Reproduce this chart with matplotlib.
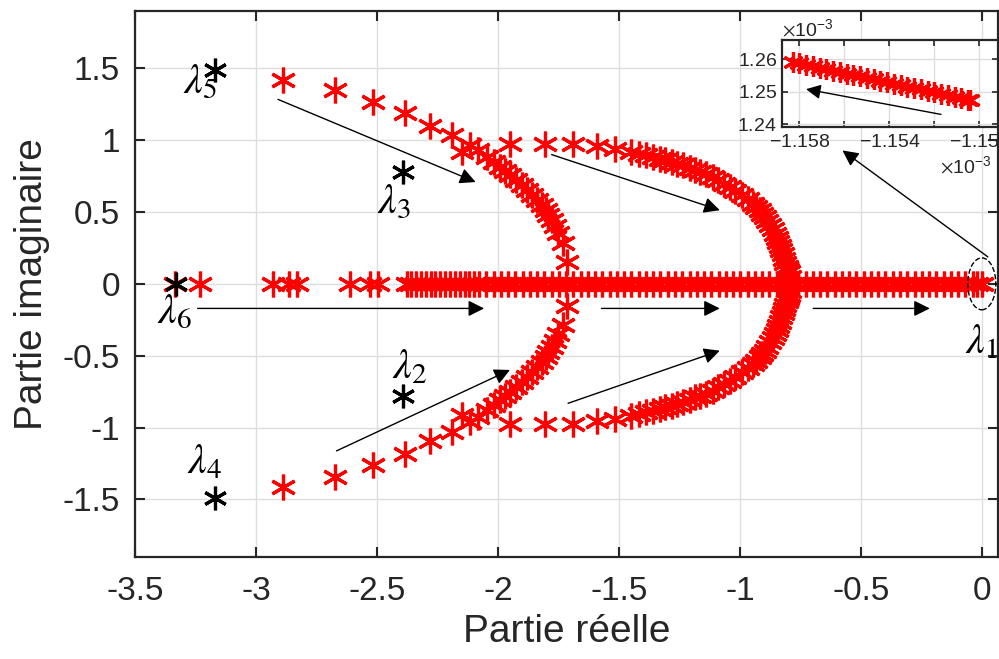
import numpy as np
import matplotlib
matplotlib.use("Agg")
import matplotlib.pyplot as plt
from matplotlib.patches import Ellipse

plt.rcParams['font.family'] = ['Liberation Sans', 'DejaVu Sans']
plt.rcParams['axes.unicode_minus'] = False
plt.rcParams['mathtext.fontset'] = 'stix'

# eigenvalues on the real axis
real_axis = [-3.337, -3.233, -2.931, -2.864, -2.834, -2.614, -2.531, -2.498,
             -2.379, -2.36, -2.34, -2.32, -2.30, -2.28, -2.26, -2.24, -2.22, -2.20,
             -2.18, -2.16, -2.14, -2.12, -2.10, -2.08, -2.05, -2.02, -1.99, -1.96,
             -1.93, -1.90, -1.87, -1.84, -1.81, -1.78, -1.75, -1.72, -1.69, -1.66,
             -1.63, -1.60, -1.57, -1.54, -1.51, -1.48, -1.45, -1.42, -1.39, -1.36,
             -1.33, -1.30, -1.27, -1.24, -1.21, -1.18, -1.15, -1.12, -1.09, -1.06,
             -1.03, -1.00, -0.97, -0.94, -0.91, -0.88, -0.85, -0.82, -0.79, -0.76,
             -0.73, -0.70, -0.67, -0.64, -0.61, -0.58, -0.55, -0.52, -0.49, -0.46,
             -0.43, -0.40, -0.37, -0.34, -0.31, -0.28, -0.25, -0.22, -0.19, -0.16,
             -0.13, -0.10, -0.07, -0.04, -0.02, 0.0]

# inner branch (complex pair, upper half; lower half is the conjugate)
inner_re = [-2.890, -2.676, -2.519, -2.386, -2.282, -2.191, -2.150, -2.117, -2.085,
            -2.047, -2.019, -1.994, -1.973, -1.953, -1.928, -1.903, -1.882, -1.862,
            -1.841, -1.820, -1.804, -1.795, -1.779, -1.767, -1.754, -1.733, -1.717]
inner_im = [1.415, 1.345, 1.262, 1.185, 1.095, 1.033, 0.915, 0.963, 0.928,
            0.880, 0.845, 0.810, 0.783, 0.755, 0.720, 0.685, 0.651, 0.616,
            0.581, 0.547, 0.512, 0.477, 0.442, 0.401, 0.352, 0.283, 0.151]

# outer branch (complex pair, upper half)
outer_re = [-1.952, -1.808, -1.691, -1.594, -1.519, -1.450, -1.42, -1.388, -1.36,
            -1.333, -1.31, -1.284, -1.26, -1.236, -1.21, -1.188, -1.165, -1.140,
            -1.115, -1.092, -1.068, -1.043, -1.02, -0.995, -0.97, -0.947, -0.935,
            -0.92, -0.91, -0.898, -0.888, -0.878, -0.867, -0.857, -0.850, -0.843,
            -0.837, -0.830, -0.824, -0.819, -0.814, -0.809, -0.804, -0.800, -0.795]
outer_im = [0.975, 0.975, 0.975, 0.956, 0.940, 0.917, 0.906, 0.894, 0.883,
            0.871, 0.860, 0.847, 0.836, 0.824, 0.807, 0.790, 0.779, 0.767,
            0.744, 0.720, 0.697, 0.674, 0.645, 0.616, 0.587, 0.558, 0.535,
            0.512, 0.489, 0.465, 0.437, 0.408, 0.379, 0.350, 0.321, 0.292,
            0.263, 0.234, 0.205, 0.176, 0.147, 0.118, 0.099, 0.080, 0.049]

# initial eigenvalues lambda_1 .. lambda_6
lam_names = ['1', '2', '3', '4', '5', '6']
lam_re = [-0.00115e-3, -2.396, -2.396, -3.17, -3.17, -3.334]
lam_im = [0.00125e-3, -0.778, 0.778, -1.489, 1.484, 0.0]

# zoom on lambda_1 (values x 1e-3)
zoom_re = [-1.1583, -1.1580, -1.1577, -1.1574, -1.1571, -1.1568, -1.1565, -1.1562,
           -1.1559, -1.1556, -1.1553, -1.1550, -1.1547, -1.1544, -1.1541, -1.1538,
           -1.1535, -1.1532, -1.1529, -1.1526, -1.1523, -1.1520, -1.1517, -1.1514,
           -1.1511, -1.1508, -1.1505, -1.1504]
zoom_im = [1.2592, 1.2588, 1.2583, 1.2579, 1.2574, 1.2570, 1.2565, 1.2561,
           1.2556, 1.2552, 1.2548, 1.2543, 1.2539, 1.2534, 1.2530, 1.2525,
           1.2521, 1.2516, 1.2512, 1.2507, 1.2503, 1.2498, 1.2494, 1.2490,
           1.2485, 1.2481, 1.2476, 1.2474]

star = (6, 2, 0)
red = '#ff0000'
axcol = '#262626'

fig = plt.figure(figsize=(9.99, 6.59), dpi=100)
ax = fig.add_axes([0.1356, 0.1548, 0.8634, 0.829])

inner_re = np.array(inner_re)
inner_im = np.array(inner_im)
outer_re = np.array(outer_re)
outer_im = np.array(outer_im)

kw = dict(ls='none', marker=star, ms=18.5, mew=2.3, color=red, zorder=3)
ax.plot(real_axis, np.zeros(len(real_axis)), **kw)
ax.plot(inner_re, inner_im, **kw)
ax.plot(inner_re, -inner_im, **kw)
ax.plot(outer_re, outer_im, **kw)
ax.plot(outer_re, -outer_im, **kw)
ax.plot(lam_re[1:], lam_im[1:], ls='none', marker=star, ms=17, mew=2.3,
        color='black', zorder=4)

ax.set_xlim(-3.5, 0.065)
ax.set_ylim(-1.9, 1.9)
ax.set_xticks([-3.5, -3, -2.5, -2, -1.5, -1, -0.5, 0])
ax.set_xticklabels(['-3.5', '-3', '-2.5', '-2', '-1.5', '-1', '-0.5', '0'])
ax.set_yticks([-1.5, -1, -0.5, 0, 0.5, 1, 1.5])
ax.set_yticklabels(['-1.5', '-1', '-0.5', '0', '0.5', '1', '1.5'])
ax.grid(True, color='#dedede', lw=1.0)
ax.set_axisbelow(True)
ax.tick_params(direction='in', length=7, width=1.5, top=True, right=True,
               labelsize=24, colors=axcol)
ax.tick_params(axis='x', pad=14)
ax.tick_params(axis='y', pad=11)
for s in ax.spines.values():
    s.set_linewidth(1.6)
    s.set_color(axcol)
ax.set_xlabel('Partie réelle', fontsize=28, color=axcol, labelpad=5)
ax.set_ylabel('Partie imaginaire', fontsize=28, color=axcol, labelpad=9)

# lambda labels
lab_pos = {'1': (-0.005, -0.41), '2': (-2.366, -0.578), '3': (-2.432, 0.566),
           '4': (-3.213, -1.24), '5': (-3.233, 1.40), '6': (-3.337, -0.197)}
for n in lam_names:
    x, y = lab_pos[n]
    ax.text(x, y, r'$\lambda_{%s}$' % n, fontsize=30, ha='center', va='center',
            zorder=5)

# arrows
arrows = [((-2.911, 1.283), (-2.094, 0.708)),
          ((-1.780, 0.899), (-1.085, 0.512)),
          ((-3.243, -0.171), (-2.059, -0.171)),
          ((-1.574, -0.171), (-1.085, -0.171)),
          ((-0.699, -0.171), (-0.217, -0.171)),
          ((-2.669, -1.162), (-1.952, -0.599)),
          ((-1.712, -0.831), (-1.085, -0.465)),
          ((0.023, 0.1875), (-0.578, 0.928))]
for start, end in arrows:
    ax.annotate('', xy=end, xytext=start,
                arrowprops=dict(arrowstyle='-|>', color='black', lw=1.0,
                                mutation_scale=24, shrinkA=0, shrinkB=0),
                zorder=6)

ax.add_patch(Ellipse((-0.002, 0.0), 0.116, 0.361, fill=False, ls='--',
                     lw=1.0, color='black', zorder=6))

# inset
ins = fig.add_axes([0.7825, 0.8068, 0.2162, 0.1325])
zr = np.array(zoom_re) * 1e-3
zi = np.array(zoom_im) * 1e-3
ins.plot(zr, zi, ls='none', marker=star, ms=15, mew=2.3, color=red)
ins.set_xlim(-1.15878e-3, -1.14919e-3)
ins.set_ylim(1.239e-3, 1.266e-3)
ins.set_xticks(np.array([-1.158, -1.156, -1.154, -1.152, -1.150]) * 1e-3)
ins.set_yticks(np.array([1.24, 1.25, 1.26]) * 1e-3)
ins.ticklabel_format(style='sci', scilimits=(-3, -3), useMathText=True)
ins.grid(True, color='#dedede', lw=1.0)
ins.set_axisbelow(True)
ins.tick_params(direction='in', length=4, width=1.2, top=True, right=True,
                labelsize=14, colors=axcol)
ins.tick_params(axis='x', pad=4.5)
ins.tick_params(axis='y', pad=3.5)
for s in ins.spines.values():
    s.set_linewidth(1.6)
    s.set_color(axcol)
ins.annotate('', xy=(-1.1577e-3, 1.2508e-3), xytext=(-1.15171e-3, 1.2430e-3),
             arrowprops=dict(arrowstyle='-|>', color='black', lw=1.0,
                             mutation_scale=22, shrinkA=0, shrinkB=0))
fig.canvas.draw()
ins.xaxis.get_offset_text().set_fontsize(14)
ins.xaxis.get_offset_text().set_x(0.97)
ins.yaxis.get_offset_text().set_fontsize(14)
for i, t in enumerate(ins.get_xticklabels()):
    if i % 2 == 1:
        t.set_visible(False)

fig.savefig('out.png', dpi=100)
